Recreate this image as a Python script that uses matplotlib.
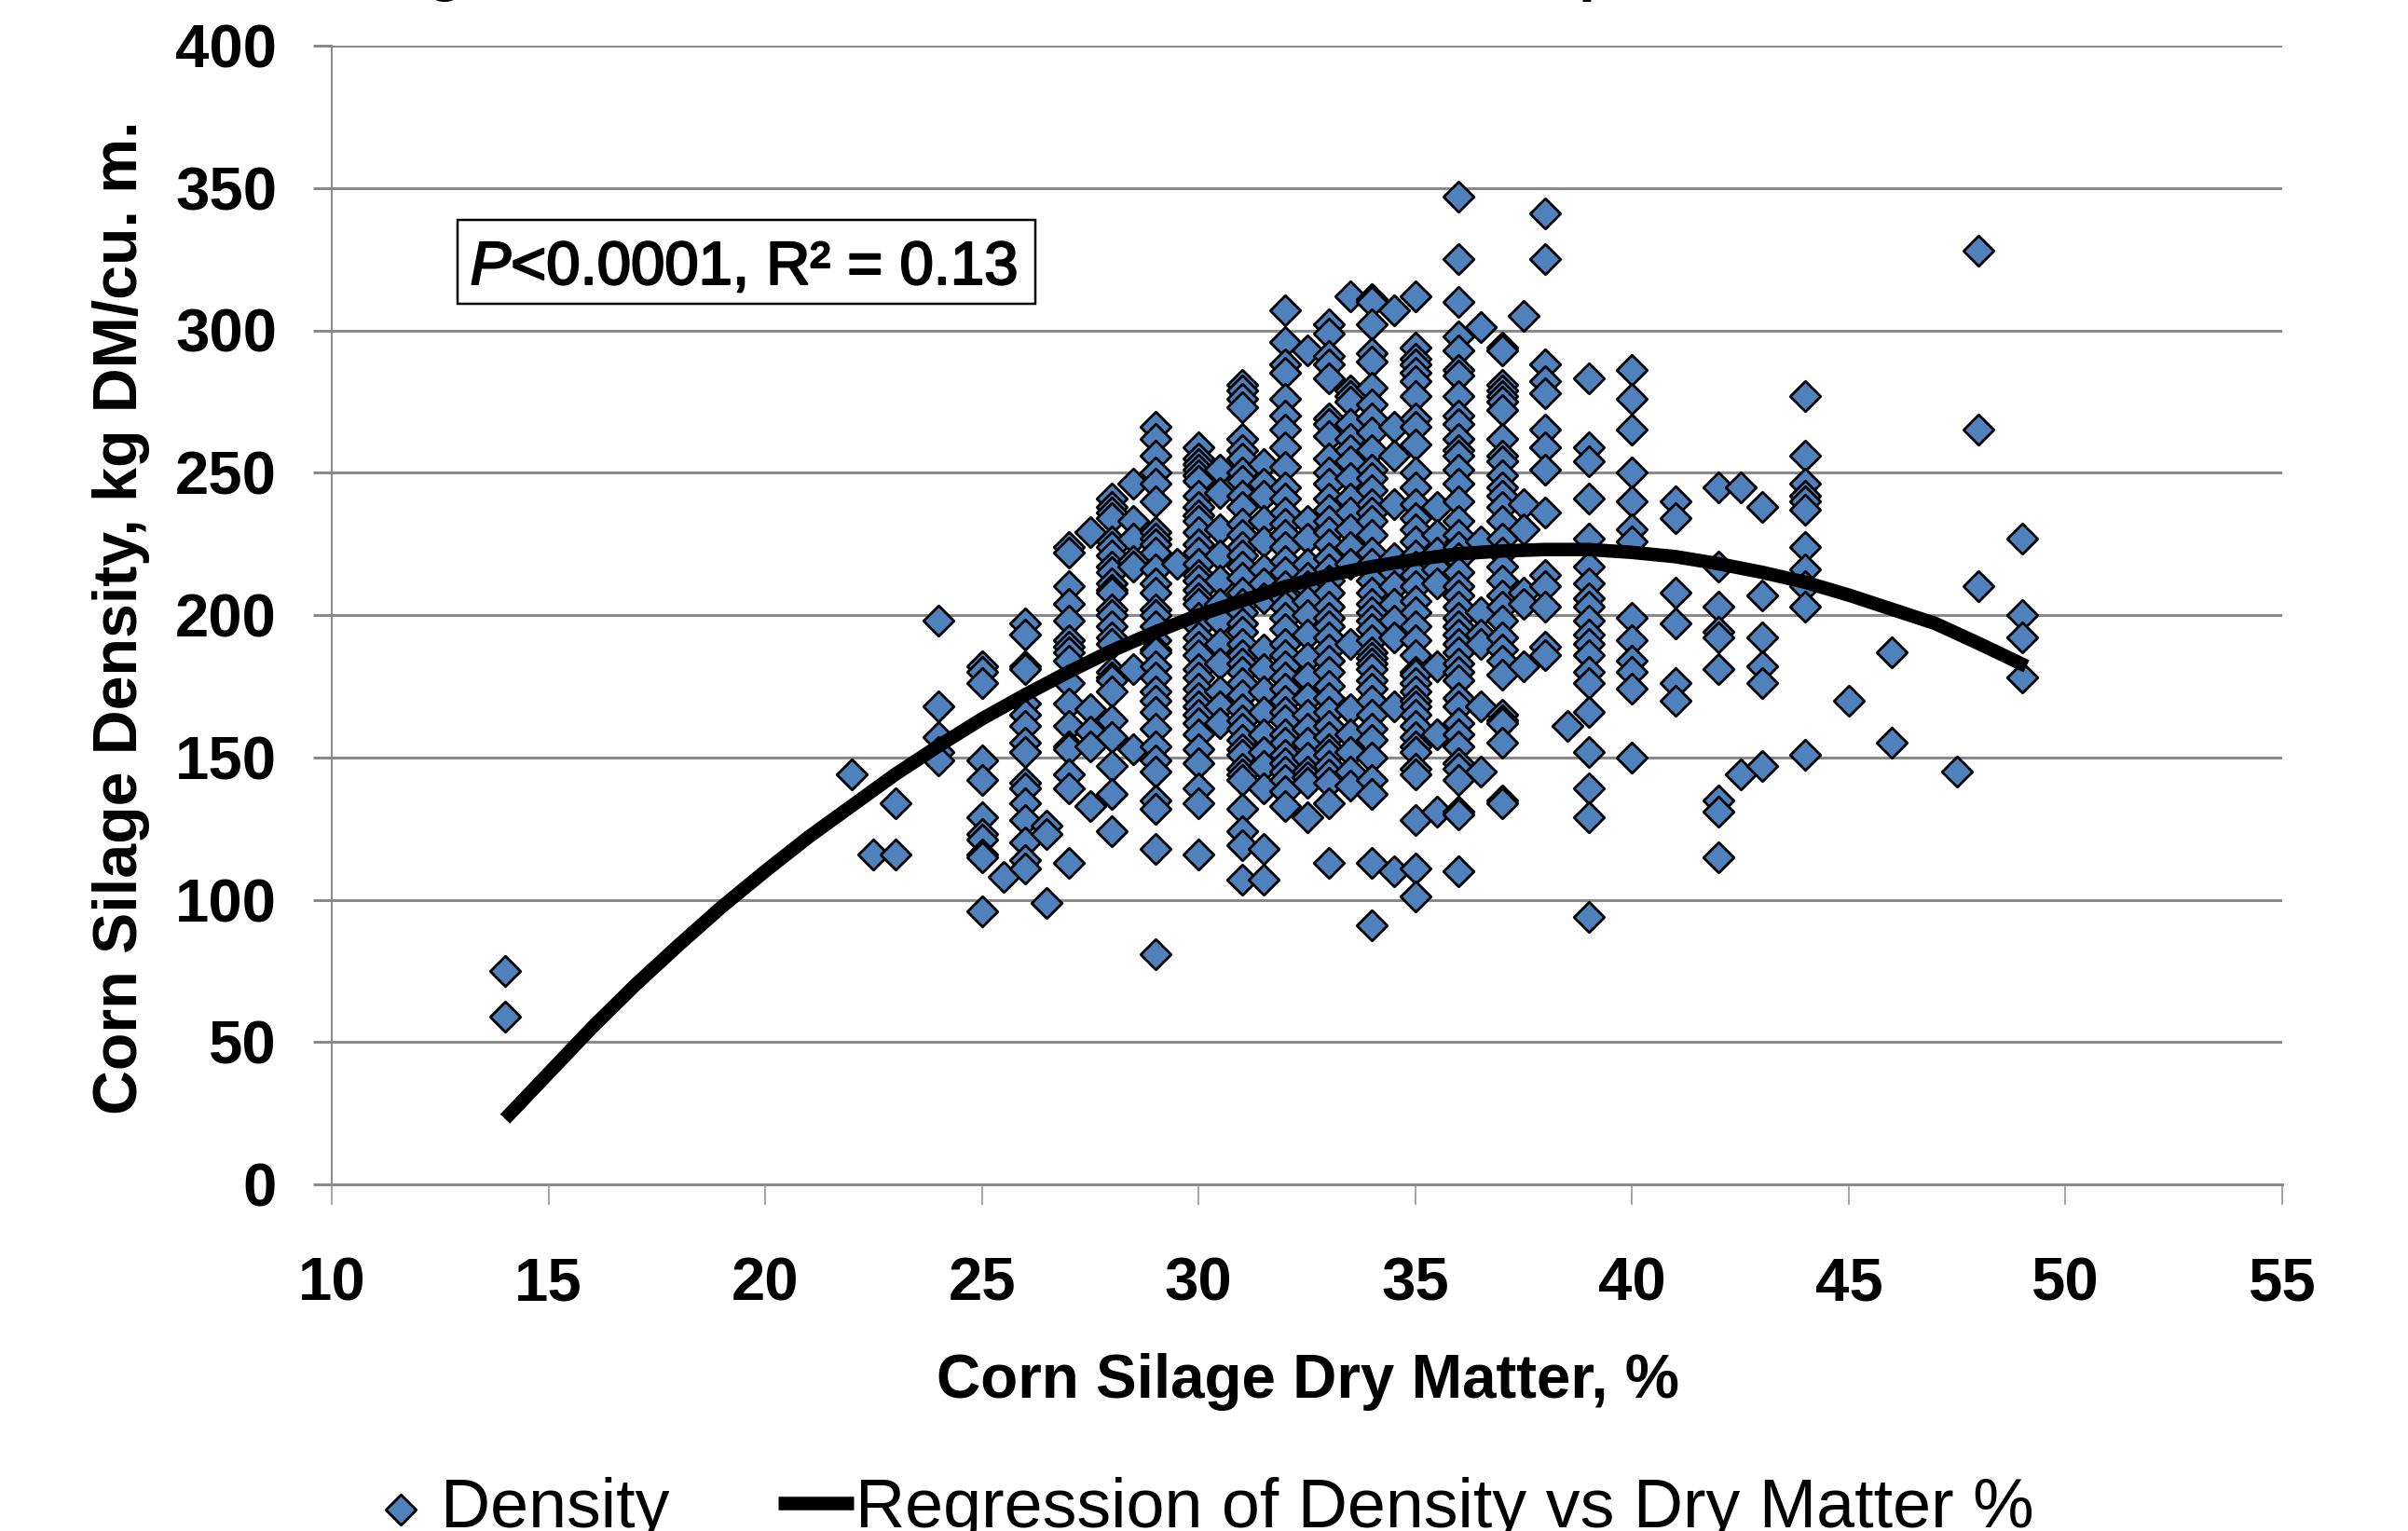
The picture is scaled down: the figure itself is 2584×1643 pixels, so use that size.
import numpy as np
import matplotlib
matplotlib.use("Agg")
import matplotlib.pyplot as plt
import matplotlib.patheffects as pe
from matplotlib.patches import Rectangle

########################################

# Values, one list per dry matter column

dens_14 = [75, 59]
dens_22 = [144]
dens_22_5 = [116]
dens_23 = [134, 116]
dens_24 = [198, 168, 157, 152, 149]
dens_25 = [182, 180, 176, 149, 142, 129, 123, 121, 116, 115, 96]
dens_25_5 = [108]
dens_26 = [197, 193, 182, 181, 169, 165, 161, 155, 152, 141, 139, 134, 128, 120, 114, 111]
dens_26_5 = [126, 123, 99]
dens_27 = [224, 222, 210, 204, 198, 191, 189, 187, 184, 176, 169, 161, 154, 153, 144, 139, 113]
dens_27_5 = [229, 167, 159, 154, 133]
dens_28 = [241, 238, 236, 234, 226, 224, 221, 217, 215, 211, 209, 208, 202, 200, 196, 192, 190, 180, 178, 177, 173, 163, 157, 147, 137, 124]
dens_28_5 = [246, 233, 227, 219, 217, 181, 153]
dens_29 = [266, 262, 256, 250, 246, 240, 229, 227, 225, 222, 216, 211, 208, 202, 200, 196, 191, 188, 187, 182, 178, 173, 170, 166, 160, 154, 149, 145, 135, 132, 118, 81]
dens_29_5 = [218]
dens_30 = [259, 255, 253, 251, 249, 247, 242, 238, 235, 233, 229, 225, 222, 218, 214, 212, 209, 206, 204, 199, 196, 192, 189, 186, 181, 178, 174, 171, 168, 165, 162, 158, 153, 148, 139, 134, 116]
dens_30_5 = [251, 243, 230, 221, 212, 204, 198, 190, 183, 173, 168, 162]
dens_31 = [281, 279, 276, 273, 262, 258, 255, 250, 247, 242, 238, 232, 228, 224, 221, 217, 213, 208, 204, 201, 197, 194, 190, 186, 183, 180, 176, 172, 167, 163, 160, 156, 153, 151, 146, 144, 142, 132, 124, 119, 107]
dens_31_5 = [253, 246, 242, 233, 226, 216, 211, 206, 188, 181, 173, 166, 158, 152, 147, 139, 118, 107]
dens_32 = [307, 296, 288, 285, 276, 270, 265, 259, 252, 245, 241, 236, 232, 228, 224, 219, 215, 210, 206, 203, 199, 195, 190, 186, 182, 178, 174, 170, 166, 163, 158, 155, 151, 148, 145, 142, 138, 133]
dens_32_5 = [293, 233, 227, 218, 213, 210, 205, 200, 193, 185, 178, 171, 165, 160, 155, 150, 145, 143, 141, 129]
dens_33 = [302, 299, 291, 288, 283, 269, 267, 263, 255, 250, 246, 241, 237, 233, 229, 225, 220, 216, 212, 208, 203, 199, 196, 192, 188, 184, 180, 175, 171, 166, 161, 157, 153, 151, 147, 144, 141, 134, 113]
dens_33_5 = [312, 279, 277, 275, 267, 262, 258, 254, 248, 241, 236, 230, 224, 218, 190, 167, 158, 152, 145, 140]
dens_34 = [311, 310, 302, 292, 289, 280, 274, 269, 264, 258, 251, 248, 244, 239, 236, 233, 228, 222, 218, 212, 208, 204, 201, 198, 195, 191, 187, 185, 183, 181, 177, 174, 170, 165, 160, 156, 150, 142, 137, 113, 91]
dens_34_5 = [307, 266, 256, 239, 220, 215, 210, 204, 198, 192, 168, 110]
dens_35 = [312, 294, 290, 288, 285, 282, 277, 269, 266, 260, 250, 245, 239, 234, 230, 226, 221, 217, 214, 210, 205, 201, 196, 191, 186, 180, 179, 176, 173, 170, 168, 165, 161, 157, 154, 152, 146, 144, 128, 111, 101]
dens_35_5 = [238, 228, 222, 216, 211, 182, 158, 131]
dens_36 = [347, 325, 310, 298, 293, 286, 284, 277, 270, 267, 262, 258, 256, 251, 246, 240, 233, 228, 224, 220, 215, 210, 207, 203, 199, 196, 193, 190, 187, 183, 180, 177, 171, 168, 162, 158, 154, 148, 146, 142, 131, 130, 110]
dens_36_5 = [301, 226, 201, 193, 190, 168, 145]
dens_37 = [294, 293, 281, 279, 277, 275, 272, 262, 256, 254, 249, 245, 242, 238, 233, 227, 222, 217, 212, 207, 203, 198, 192, 188, 184, 179, 165, 163, 162, 155, 135, 134]
dens_37_5 = [305, 239, 230, 208, 204, 182]
dens_38 = [341, 325, 288, 282, 278, 265, 259, 251, 236, 214, 210, 203, 189, 186]
dens_38_5 = [161]
dens_39 = [283, 259, 254, 241, 227, 217, 211, 206, 203, 198, 193, 190, 186, 180, 176, 166, 152, 139, 129, 94]
dens_40 = [286, 276, 265, 250, 240, 230, 226, 199, 191, 184, 180, 174, 150]
dens_41 = [240, 234, 208, 197, 176, 170]
dens_42 = [245, 217, 203, 194, 192, 181, 135, 131, 115]
dens_42_5 = [245, 144]
dens_43 = [238, 207, 192, 182, 176, 147]
dens_44 = [277, 256, 246, 242, 240, 237, 224, 216, 210, 203, 151]
dens_45 = [170]
dens_46 = [187, 155]
dens_47_5 = [145]
dens_48 = [328, 265, 210]
dens_49 = [227, 200, 192, 178]

columns = [(14, dens_14), (22, dens_22), (22.5, dens_22_5), (23, dens_23), (24, dens_24), (25, dens_25),
           (25.5, dens_25_5), (26, dens_26), (26.5, dens_26_5), (27, dens_27), (27.5, dens_27_5), (28, dens_28),
           (28.5, dens_28_5), (29, dens_29), (29.5, dens_29_5), (30, dens_30), (30.5, dens_30_5), (31, dens_31),
           (31.5, dens_31_5), (32, dens_32), (32.5, dens_32_5), (33, dens_33), (33.5, dens_33_5), (34, dens_34),
           (34.5, dens_34_5), (35, dens_35), (35.5, dens_35_5), (36, dens_36), (36.5, dens_36_5), (37, dens_37),
           (37.5, dens_37_5), (38, dens_38), (38.5, dens_38_5), (39, dens_39), (40, dens_40), (41, dens_41),
           (42, dens_42), (42.5, dens_42_5), (43, dens_43), (44, dens_44), (45, dens_45), (46, dens_46),
           (47.5, dens_47_5), (48, dens_48), (49, dens_49)]

# The regression curve, read at each whole percent
curve_x = [14, 15, 16, 17, 18, 19, 20, 21, 22, 23, 24, 25, 26, 27, 28, 29, 30, 31, 32, 33, 34, 35, 36, 37, 38, 39, 40, 41, 42, 43, 44, 45, 46, 47, 48, 49.1]
curve_y = [23, 39, 55, 70, 84, 97.5, 110, 122, 133, 144, 154, 163.5, 172, 180, 187.5, 194, 200, 205, 210, 214, 217, 219.5, 221.5, 222.5, 223, 223, 222, 220.5, 218, 215, 211.5, 207, 202, 197, 190, 182]

x_ticks = [10, 15, 20, 25, 30, 35, 40, 45, 50, 55]
y_ticks = [0, 50, 100, 150, 200, 250, 300, 350, 400]

########################################

plt.rcParams["font.family"] = ["Liberation Sans", "DejaVu Sans"]
plt.rcParams["mathtext.fontset"] = "custom"
plt.rcParams["mathtext.it"] = "Liberation Sans:italic"
plt.rcParams["mathtext.rm"] = "Liberation Sans"

W, H = 2584, 1643
PX = 72 / 100  # one pixel in points at dpi 100

fig = plt.figure(figsize = (W / 100, H / 100), dpi = 100)
ax = fig.add_axes([356 / W, 1 - 1271 / H, (2449 - 356) / W, (1271 - 49) / H])

xs = []
ys = []
for x, values in columns:
    for v in values:
        xs.append(x)
        ys.append(v)

points = ax.scatter(np.array(xs), np.array(ys), marker = "D", s = (23 * PX) ** 2, facecolor = "#4f81bd",
                    edgecolor = "black", linewidth = 2.8 * PX, zorder = 3, clip_on = False, label = "Density")
curve, = ax.plot(curve_x, curve_y, color = "black", linewidth = 14.5 * PX, solid_capstyle = "butt", zorder = 4,
                 label = "Regression of Density vs Dry Matter %")

ax.set_xlim(10, 55)
ax.set_ylim(0, 400)
ax.set_xticks(x_ticks)
ax.set_yticks(y_ticks)

grey = "#8a8a8a"
ax.grid(axis = "y", color = grey, linewidth = 3 * PX, zorder = 1)
ax.set_axisbelow(True)
for side in ["top", "right"]:
    ax.spines[side].set_visible(False)
ax.spines["left"].set_color(grey)
ax.spines["left"].set_linewidth(2 * PX)
ax.spines["bottom"].set_color(grey)
ax.spines["bottom"].set_linewidth(3 * PX)

ax.tick_params(axis = "x", length = 22 * PX, width = 1.5 * PX, color = grey, pad = 55 * PX, labelsize = 47)
ax.tick_params(axis = "y", length = 20 * PX, width = 3 * PX, color = grey, pad = 39 * PX, labelsize = 47)
for label in ax.get_xticklabels() + ax.get_yticklabels():
    label.set_fontweight("bold")

fig.text(1403 / W, 1 - 1500 / H, "Corn Silage Dry Matter, %", fontsize = 47.2, fontweight = "bold", ha = "center", va = "baseline")
fig.text(130 / W, 1 - 663 / H, "Corn Silage Density, kg DM/cu. m.", fontsize = 47.7, fontweight = "bold", rotation = 90,
         ha = "center", va = "center")

# The box and its text sit apart so the text can hang a little low in the box, as it does in the picture
fig.add_artist(Rectangle((491 / W, 1 - 326 / H), 620 / W, 90 / H, transform = fig.transFigure, facecolor = "white",
                         edgecolor = "black", linewidth = 2.5 * PX, zorder = 5))
note = fig.text(798 / W, 1 - 305 / H, r"$\mathit{P}$<0.0001, R² = 0.13", fontsize = 47, ha = "center", va = "baseline", zorder = 6)
note.set_path_effects([pe.withStroke(linewidth = 2.2 * PX, foreground = "black")])

# Only the tails of a title show at the very top of the picture
fig.text(477 / W, 1 + 11 / H, "g", fontsize = 47, fontweight = "bold", ha = "center", va = "baseline")
fig.text(1714 / W, 1 + 11 / H, "p", fontsize = 47, fontweight = "bold", ha = "center", va = "baseline")

fig.legend(handles = [points, curve], loc = "lower left", bbox_to_anchor = (390 / W, 1 - 1654 / H), ncol = 2, frameon = False,
           fontsize = 53, handlelength = 1.1, handletextpad = 0.03, columnspacing = 1.58, borderpad = 0, borderaxespad = 0, scatterpoints = 1)

fig.savefig("out.png", dpi = 100)
